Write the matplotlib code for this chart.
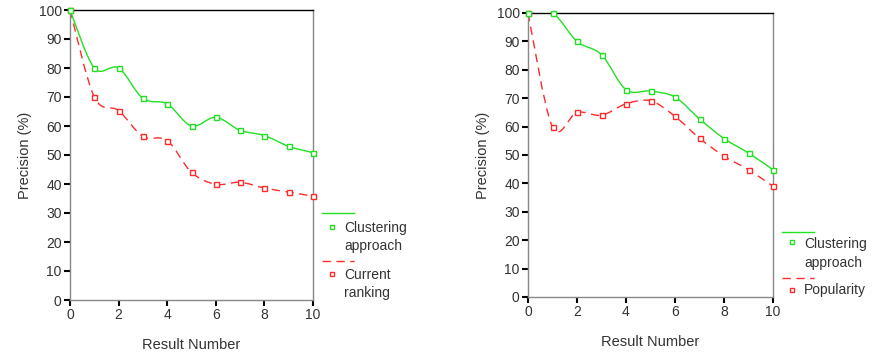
import matplotlib
matplotlib.use('Agg')
import matplotlib.pyplot as plt
import numpy as np
from matplotlib.path import Path
from matplotlib.patches import PathPatch
from matplotlib.lines import Line2D

plt.rcParams.update({
    'font.family': ['Liberation Sans', 'DejaVu Sans'],
    'font.size': 9,
})

# ── Data ──
result_number = [0, 1, 2, 3, 4, 5, 6, 7, 8, 9, 10]

left_clustering = [100, 80, 80, 69.5, 67.6, 60, 63, 58.5, 56.7, 53, 50.8]
left_current = [100, 70, 65.3, 56.4, 55, 44, 39.9, 40.6, 38.6, 37.2, 35.8]

right_clustering = [100, 100, 90, 85.3, 73, 72.5, 70.4, 62.7, 55.8, 50.7, 44.8]
right_popularity = [100, 59.9, 65, 64, 68, 69.1, 63.6, 55.9, 49.6, 44.8, 39]

y_ticks = [0, 10, 20, 30, 40, 50, 60, 70, 80, 90, 100]
x_ticks = [0, 2, 4, 6, 8, 10]

GREEN = '#22e022'
RED = '#ff2a2a'
DASH = (0, (6, 4))
TEXT = '#333333'


def smooth_path(x, y):
    """Catmull-Rom style cubic Bezier path through the data points."""
    p = np.column_stack([x, y]).astype(float)
    ext = np.vstack([p[0], p, p[-1]])
    verts = [p[0]]
    codes = [Path.MOVETO]
    for i in range(len(p) - 1):
        p0, p1, p2, p3 = ext[i], ext[i + 1], ext[i + 2], ext[i + 3]
        c1 = p1 + (p2 - p0) / 6.0
        c2 = p2 - (p3 - p1) / 6.0
        verts += [c1, c2, p2]
        codes += [Path.CURVE4] * 3
    return Path(verts, codes)


def draw_series(ax, x, y, color, ls):
    patch = PathPatch(smooth_path(x, y), facecolor='none', edgecolor=color,
                      lw=1.0, linestyle=ls)
    ax.add_patch(patch)
    ax.plot(x, y, ls='none', marker='s', ms=3.6, mfc='white', mec=color,
            mew=1.0, clip_on=False, zorder=3)


def style_axes(ax, xpad):
    ax.set_xlim(0, 10)
    ax.set_ylim(0, 100)
    ax.set_xticks(x_ticks)
    ax.set_yticks(y_ticks)
    ax.tick_params(direction='out', length=4, width=1.5, color='black',
                   labelcolor=TEXT, labelsize=10, pad=2)
    ax.spines['left'].set_color('#888888')
    ax.spines['bottom'].set_color('#888888')
    ax.spines['right'].set_color('#888888')
    ax.spines['top'].set_color('black')
    for s in ax.spines.values():
        s.set_linewidth(1.0)
    ax.set_xlabel('Result Number', fontsize=10.5, color=TEXT, labelpad=xpad)
    ax.set_ylabel('Precision (%)', fontsize=10.5, color=TEXT, labelpad=5)


def draw_legend(fig, x0, entries):
    """Legend in figure pixel space: (line_y, marker_y, [(text, text_y)], color, ls)."""
    W, H = fig.get_size_inches() * fig.dpi
    for line_y, marker_y, texts, color, ls in entries:
        fig.add_artist(Line2D([x0 / W, (x0 + 32) / W], [1 - line_y / H, 1 - line_y / H],
                              color=color, lw=1.0, linestyle=ls))
        fig.add_artist(Line2D([(x0 + 10) / W], [1 - marker_y / H], marker='s', ms=3.2,
                              mfc='white', mec=color, mew=1.0, ls='none'))
        for t, ty in texts:
            fig.text((x0 + 22) / W, 1 - ty / H, t, fontsize=10,
                     color=TEXT, va='center', ha='left')


fig = plt.figure(figsize=(8.75, 3.55), dpi=100)

ax1 = fig.add_axes([70 / 875, 1 - 300 / 355, 243 / 875, 290 / 355])
draw_series(ax1, result_number, left_current, RED, DASH)
draw_series(ax1, result_number, left_clustering, GREEN, '-')
style_axes(ax1, 11)

ax2 = fig.add_axes([528 / 875, 1 - 297 / 355, 245 / 875, 284 / 355])
draw_series(ax2, result_number, right_popularity, RED, DASH)
draw_series(ax2, result_number, right_clustering, GREEN, '-')
style_axes(ax2, 11)

draw_legend(fig, 322, [
    (213, 227, [('Clustering', 228), ('approach', 246)], GREEN, '-'),
    (261, 274, [('Current', 275), ('ranking', 293)], RED, DASH),
])
draw_legend(fig, 782, [
    (232, 242, [('Clustering', 244), ('approach', 263)], GREEN, '-'),
    (278, 290, [('Popularity', 290)], RED, DASH),
])

fig.savefig('out.png', dpi=100)
